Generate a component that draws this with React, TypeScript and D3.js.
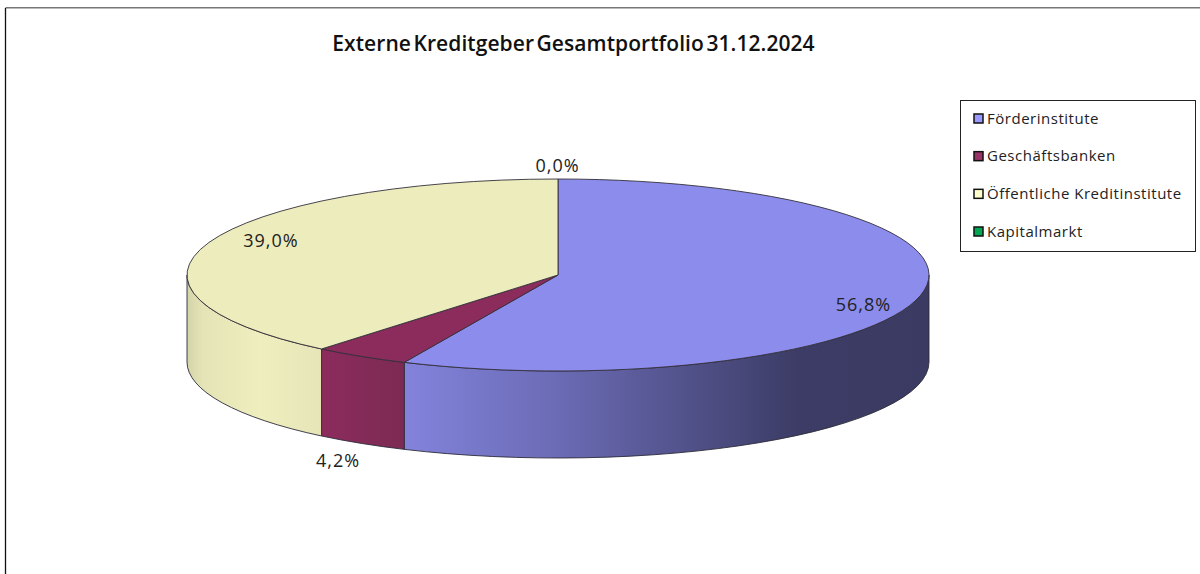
import React from "react";
import * as d3 from "d3";

const titleText = "Externe Kreditgeber Gesamtportfolio 31.12.2024";
const categories = ["Förderinstitute", "Geschäftsbanken", "Öffentliche Kreditinstitute", "Kapitalmarkt"];
const values = [56.8, 4.2, 39.0, 0.0];
const labels = ["56,8%", "4,2%", "39,0%", "0,0%"];
const topColors = ["#8c8cec", "#8c2c5c", "#edecbd", "#0ca650"];
const legendColors = ["#9999ff", "#993366", "#ffffcc", "#00a651"];
const gradientStops = [
  [["0", "#8383dc"], ["0.3", "#6a6ab4"], ["0.75", "#3c3c66"], ["1", "#3a3a62"]],
  [["0", "#8c2c5c"], ["1", "#7c2a54"]],
  [["0", "#d4d4aa"], ["0.12", "#e4e4b6"], ["0.55", "#eeeebe"], ["1", "#e6e5b8"]],
  [["0", "#0ca650"], ["1", "#0ca650"]],
];

const cx = 558, cy = 275, rx = 371, ry = 96, depth = 87;
const font = "'Open Sans', 'Noto Sans', sans-serif";

const px = (a: number) => cx + rx * Math.sin(a);
const py = (a: number) => cy - ry * Math.cos(a);

function topPath(a0: number, a1: number) {
  if (a1 - a0 < 1e-6) return "";
  const p = d3.path();
  p.moveTo(cx, cy);
  p.lineTo(px(a0), py(a0));
  return `${p}A${rx},${ry} 0 ${a1 - a0 > Math.PI ? 1 : 0} 1 ${px(a1)},${py(a1)}Z`;
}

function sidePath(a0: number, a1: number) {
  const s = Math.max(a0, Math.PI / 2), e = Math.min(a1, (3 * Math.PI) / 2);
  if (e - s < 1e-6) return "";
  return `M${px(s)},${py(s)}A${rx},${ry} 0 0 1 ${px(e)},${py(e)}L${px(e)},${py(e) + depth}A${rx},${ry} 0 0 0 ${px(s)},${py(s) + depth}Z`;
}

function sideExtent(a0: number, a1: number) {
  const s = Math.max(a0, Math.PI / 2), e = Math.min(a1, (3 * Math.PI) / 2);
  const xs = [px(s), px(e)];
  if (a0 <= Math.PI / 2 && a1 >= Math.PI / 2) xs.push(cx + rx);
  return [Math.min(...xs), Math.max(...xs)];
}

export default function App() {
  const slices = d3.pie<number>().sort(null).value((d) => d)(values);
  const legendY = d3.scalePoint<string>().domain(categories).range([118, 231]);
  const labelPos: [number, number][] = [[863.5, 305], [338, 461], [271, 241], [557.5, 166]];
  return (
    <svg width={1200} height={574} style={{ position: "absolute", left: 0, top: 0, background: "#fff" }}>
      <defs>
        {slices.map((s, i) => {
          const [a, b] = sideExtent(s.startAngle, s.endAngle);
          return (
            <linearGradient key={i} id={`g${i}`} gradientUnits="userSpaceOnUse" x1={a} x2={b} y1={0} y2={0}>
              {gradientStops[i].map(([o, c]) => <stop key={o} offset={o} stopColor={c} />)}
            </linearGradient>
          );
        })}
      </defs>
      <path d="M1200,7.8H5.5" fill="none" stroke="#777" strokeWidth={1.6} />
      <line x1={5.5} x2={5.5} y1={8} y2={574} stroke="#111" strokeWidth={1.3} />
      <text x={573.5} y={51} textAnchor="middle" fontFamily={font} fontWeight={600} fontSize={21} fill="#111" letterSpacing={0.07} wordSpacing={-3}>{titleText}</text>

      {slices.map((s, i) => {
        const d = sidePath(s.startAngle, s.endAngle);
        return d ? <path key={i} d={d} fill={`url(#g${i})`} stroke="#2b2b3a" strokeWidth={0.9} /> : null;
      })}
      {slices.map((s, i) => {
        const d = topPath(s.startAngle, s.endAngle);
        return d ? <path key={i} d={d} fill={topColors[i]} stroke="#33303a" strokeWidth={0.9} /> : null;
      })}
      {labels.map((t, i) => (
        <text key={t} x={labelPos[i][0]} y={labelPos[i][1] + 6} textAnchor="middle" fontFamily={font} fontSize={18} letterSpacing={1} fill="#222">{t}</text>
      ))}

      <rect x={960.5} y={100.5} width={235} height={151} fill="#fff" stroke="#222" strokeWidth={1} />
      {categories.map((c, i) => {
        const y = legendY(c)!;
        return (
          <g key={c}>
            <rect x={974} y={y - 4} width={9} height={9} fill={legendColors[i]} stroke="#111" strokeWidth={1.5} />
            <text x={987} y={y + 5.5} fontFamily={font} fontSize={15} letterSpacing={0.52} fill="#222">{c}</text>
          </g>
        );
      })}
    </svg>
  );
}
